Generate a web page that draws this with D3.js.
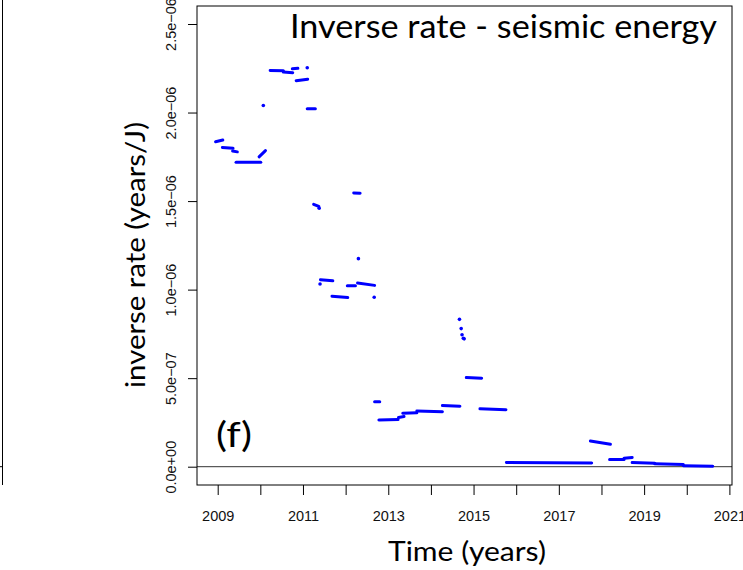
<!DOCTYPE html>
<html>
<head>
<meta charset="utf-8">
<script src="https://cdn.jsdelivr.net/npm/d3@7"></script>
<style>
  html, body { margin: 0; padding: 0; background: #fff; }
  svg { display: block; }
</style>
</head>
<body>
<svg id="chart" width="743" height="570"></svg>
<script>
// ---- Data ----
const xTickYears = [2009, 2010, 2011, 2012, 2013, 2014, 2015, 2016, 2017, 2018, 2019, 2020, 2021];
const xTickLabels = ["2009", "", "2011", "", "2013", "", "2015", "", "2017", "", "2019", "", "2021"];
const yTicks = [0, 5e-7, 1e-6, 1.5e-6, 2e-6, 2.5e-6];
const yTickLabels = ["0.0e+00", "5.0e\u221207", "1.0e\u221206", "1.5e\u221206", "2.0e\u221206", "2.5e\u221206"];

// horizontal runs of daily estimates: start/end time (years), start/end value (x 1e-6 years/J)
const segT0 = [2008.95, 2009.11, 2009.35, 2009.43, 2009.97, 2010.23, 2010.54, 2010.75, 2010.84, 2011.10,
               2011.25, 2012.19, 2011.41, 2011.68, 2012.04, 2012.28, 2012.68, 2012.78, 2013.24, 2013.34,
               2013.67, 2014.27, 2014.83, 2015.15, 2015.77, 2017.74, 2018.19, 2018.53, 2018.72, 2019.25, 2019.92];
const segT1 = [2009.12, 2009.36, 2009.46, 2010.01, 2010.12, 2010.54, 2010.76, 2010.88, 2011.11, 2011.29,
               2011.37, 2012.34, 2011.70, 2012.05, 2012.23, 2012.68, 2012.80, 2013.23, 2013.37, 2013.67,
               2014.27, 2014.68, 2015.19, 2015.76, 2017.77, 2018.21, 2018.53, 2018.72, 2019.25, 2019.92, 2020.61];
const segV0 = [1.835, 1.803, 1.783, 1.719, 1.750, 2.238, 2.229, 2.247, 2.180, 2.022,
               1.482, 1.546, 1.056, 0.963, 1.022, 1.038, 0.367, 0.264, 0.278, 0.302,
               0.315, 0.345, 0.504, 0.327, 0.024, 0.145, 0.040, 0.048, 0.024, 0.016, 0.006];
const segV1 = [1.845, 1.798, 1.778, 1.719, 1.785, 2.236, 2.225, 2.250, 2.188, 2.022,
               1.470, 1.544, 1.050, 0.955, 1.022, 1.024, 0.367, 0.266, 0.283, 0.305,
               0.311, 0.342, 0.500, 0.322, 0.021, 0.127, 0.041, 0.052, 0.020, 0.012, 0.003];

// isolated estimates
const ptT = [2010.07, 2011.10, 2011.38, 2011.40, 2012.30, 2012.67, 2014.67, 2014.71, 2014.73, 2014.76, 2014.78];
const ptV = [2.040, 2.253, 1.460, 1.032, 1.175, 0.957, 0.832, 0.780, 0.745, 0.725, 0.722];

const SCALE = 1e-6;

// ---- Layout ----
const svg = d3.select("#chart");
const frame = { left: 197, right: 732, top: 6, bottom: 485 };
const x = d3.scaleLinear().domain([2009, 2021]).range([217.7, 729.4]);
const y = d3.scaleLinear().domain([0, 2.5e-6]).range([466.7, 24]);
const blue = "#0000ff";
const textFont = "Lato, 'Open Sans', sans-serif";
const tickFont = "'Liberation Sans', Arial, Helvetica, sans-serif";

// neighbouring panel edge (cropped at left)
svg.append("line").attr("x1", 2.5).attr("x2", 2.5).attr("y1", 0).attr("y2", frame.bottom)
  .attr("stroke", "#000").attr("stroke-width", 1);
svg.append("line").attr("x1", 0).attr("x2", 2.5).attr("y1", y(0)).attr("y2", y(0))
  .attr("stroke", "#000").attr("stroke-width", 1);

// zero reference line
svg.append("line")
  .attr("x1", frame.left).attr("x2", frame.right)
  .attr("y1", y(0)).attr("y2", y(0))
  .attr("stroke", "#333").attr("stroke-width", 1);

// data: runs
const segs = segT0.map((t, i) => ({ t0: t, t1: segT1[i], v0: segV0[i] * SCALE, v1: segV1[i] * SCALE }));
svg.append("g").selectAll("line").data(segs).join("line")
  .attr("x1", d => x(d.t0)).attr("x2", d => x(d.t1))
  .attr("y1", d => y(d.v0)).attr("y2", d => y(d.v1))
  .attr("stroke", blue).attr("stroke-width", 3).attr("stroke-linecap", "round");

// data: isolated points
const pts = ptT.map((t, i) => ({ t, v: ptV[i] * SCALE }));
svg.append("g").selectAll("circle").data(pts).join("circle")
  .attr("cx", d => x(d.t)).attr("cy", d => y(d.v)).attr("r", 1.8)
  .attr("fill", blue);

// frame
svg.append("rect")
  .attr("x", frame.left).attr("y", frame.top)
  .attr("width", frame.right - frame.left).attr("height", frame.bottom - frame.top)
  .attr("fill", "none").attr("stroke", "#000").attr("stroke-width", 1);

// x axis
const xAxis = d3.axisBottom(x).tickValues(xTickYears)
  .tickFormat((d, i) => xTickLabels[i]).tickSize(10).tickPadding(16);
const gx = svg.append("g").attr("transform", `translate(0,${frame.bottom})`).call(xAxis);
gx.select(".domain").remove();
gx.selectAll(".tick line").attr("stroke", "#000");
gx.selectAll(".tick text").attr("font-family", tickFont).attr("font-size", 14.5).attr("fill", "#111")
  .attr("dy", null).attr("y", 36);

// y axis
const yAxis = d3.axisLeft(y).tickValues(yTicks)
  .tickFormat((d, i) => yTickLabels[i]).tickSize(9);
const gy = svg.append("g").attr("transform", `translate(${frame.left},0)`).call(yAxis);
gy.select(".domain").remove();
gy.selectAll(".tick line").attr("stroke", "#000");
gy.selectAll(".tick text")
  .attr("font-family", tickFont).attr("font-size", 14.5).attr("fill", "#111")
  .attr("x", null).attr("dy", null)
  .attr("text-anchor", "middle")
  .attr("transform", `translate(${176 - frame.left},0) rotate(-90)`);

// title inside
svg.append("text").attr("x", 290).attr("y", 38)
  .attr("font-family", textFont).attr("font-size", 33)
  .attr("textLength", 427).attr("lengthAdjust", "spacingAndGlyphs")
  .text("Inverse rate - seismic energy");

// panel letter
svg.append("text").attr("x", 216).attr("y", 447)
  .attr("font-family", textFont).attr("font-size", 35)
  .attr("textLength", 36).attr("lengthAdjust", "spacingAndGlyphs")
  .text("(f)");

// axis titles
svg.append("text").attr("x", 467).attr("y", 561).attr("text-anchor", "middle")
  .attr("font-family", textFont).attr("font-size", 27)
  .attr("textLength", 158).attr("lengthAdjust", "spacingAndGlyphs")
  .text("Time (years)");

svg.append("text").attr("transform", "translate(145,255) rotate(-90)").attr("text-anchor", "middle")
  .attr("font-family", textFont).attr("font-size", 27)
  .attr("textLength", 266).attr("lengthAdjust", "spacingAndGlyphs")
  .text("inverse rate (years/J)");
</script>
</body>
</html>
